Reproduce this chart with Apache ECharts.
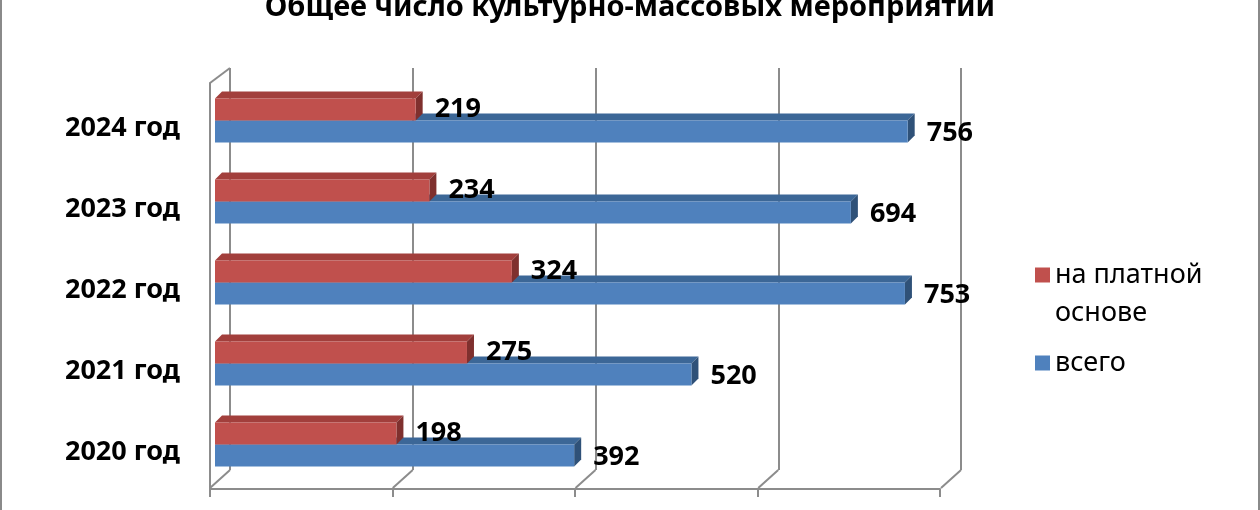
<!DOCTYPE html>
<html><head><meta charset="utf-8">
<script src="https://cdn.jsdelivr.net/npm/echarts@6/dist/echarts.min.js"></script>
<style>
html,body{margin:0;padding:0;background:#fff;}
#c{width:1260px;height:510px;box-sizing:border-box;border-left:2px solid #8a8a8a;border-right:2px solid #8a8a8a;}
</style></head>
<body><div id="c"></div>
<script>
const titleText = 'Общее число культурно-массовых мероприятий';
const categories = ['2020 год','2021 год','2022 год','2023 год','2024 год'];
const seriesPaid = [198, 275, 324, 234, 219];
const seriesTotal = [392, 520, 753, 694, 756];
const namePaid = 'на платной основе';
const nameTotal = 'всего';
const axisTicks = [0, 200, 400, 600, 800];

const BAR_H = 22, DEPTH = 7, SHIFT = -9;
const FONT = '"Noto Sans", "DejaVu Sans", sans-serif';

function makeRender(isTop, front, topC, sideC) {
  return function (params, api) {
    const v = api.value(0), cat = api.value(1);
    const p0 = api.coord([0, cat]);
    const x0 = p0[0];
    const xe = api.coord([v, cat])[0];
    const yc = p0[1] + SHIFT;
    const yTop = isTop ? yc - BAR_H + 1 : yc + 1;
    const h = BAR_H, d = DEPTH;
    return {
      type: 'group',
      children: [
        {type:'polygon', shape:{points:[[x0,yTop],[x0+d,yTop-d],[xe+d,yTop-d],[xe,yTop]]}, style:{fill:topC}},
        {type:'polygon', shape:{points:[[xe,yTop],[xe+d,yTop-d],[xe+d,yTop+h-d],[xe,yTop+h]]}, style:{fill:sideC}},
        {type:'rect', shape:{x:x0, y:yTop, width:xe-x0, height:h}, style:{fill:front}},
        {type:'text', z2: 10, style:{text:String(v), x:xe+d+12, y:yTop+h/2+(isTop?0:2), verticalAlign:'middle', align:'left',
          font:'bold 27px ' + FONT, fill:'#000'}}
      ]
    };
  };
}

const chart = echarts.init(document.getElementById('c'), null, {renderer:'canvas'});
chart.setOption({
  animation:false,
  title:{text:titleText, left:'center', top:-12, textStyle:{fontFamily:FONT, fontWeight:'bold', fontSize:29, color:'#000'}},
  legend:{
    orient:'vertical', left:1028, top:213, itemWidth:15, itemHeight:15, icon:'rect', itemGap:12,
    data:[namePaid, nameTotal],
    formatter: n => n === namePaid ? '\u00a0\nна платной\nоснове' : n,
    textStyle:{fontFamily:FONT, fontSize:27, lineHeight:38, color:'#000'}
  },
  grid:[
    {left:228, width:731, top:68, bottom:40},
    {left:208, width:730, top:83, bottom:21},
    {left:213, width:733, top:88, bottom:17}
  ],
  xAxis:[
    {gridIndex:0, type:'value', min:0, max:800, interval:200, axisLabel:{show:false}, axisTick:{show:false}, axisLine:{show:false},
      splitLine:{show:true, lineStyle:{color:'#8c8c8c', width:2}}},
    {gridIndex:1, type:'value', min:0, max:800, interval:200, axisLabel:{show:false},
      axisTick:{show:true, length:8, lineStyle:{color:'#8c8c8c', width:2}},
      axisLine:{show:true, lineStyle:{color:'#8c8c8c', width:2}}, splitLine:{show:false}},
    {gridIndex:2, type:'value', min:0, max:800, interval:200, show:false}
  ],
  yAxis:[
    {gridIndex:0, type:'value', min:0, max:1, show:false},
    {gridIndex:1, type:'value', min:0, max:1, axisLabel:{show:false}, axisTick:{show:false}, splitLine:{show:false},
      axisLine:{show:true, lineStyle:{color:'#8c8c8c', width:2}}},
    {gridIndex:2, type:'category', data:categories, axisLine:{show:false}, axisTick:{show:false},
      axisLabel:{margin:35, fontFamily:FONT, fontWeight:'bold', fontSize:27, color:'#000'}}
  ],
  series:[
    {type:'custom', name:'walls', xAxisIndex:0, yAxisIndex:0, silent:true, z:1,
      data: axisTicks.map(t => [t]),
      renderItem:function(params, api){
        const t = api.value(0);
        const pb = api.coord([t, 0]);
        const children = [{type:'line', shape:{x1:pb[0], y1:pb[1], x2:pb[0]-20, y2:pb[1]+18}, style:{stroke:'#8c8c8c', lineWidth:2}}];
        if (t === 0) {
          const pt = api.coord([0, 1]);
          children.push({type:'line', shape:{x1:pt[0], y1:pt[1], x2:pt[0]-20, y2:pt[1]+15}, style:{stroke:'#8c8c8c', lineWidth:2}});
        }
        return {type:'group', children};
      }},
    {type:'custom', name:nameTotal, xAxisIndex:2, yAxisIndex:2, itemStyle:{color:'#4F81BD'}, z:3,
      data: seriesTotal.map((v,i)=>[v,i]), encode:{x:0,y:1},
      renderItem: makeRender(false, '#4F81BD', '#3C6797', '#2F5178')},
    {type:'custom', name:namePaid, xAxisIndex:2, yAxisIndex:2, itemStyle:{color:'#C0504D'}, z:4,
      data: seriesPaid.map((v,i)=>[v,i]), encode:{x:0,y:1},
      renderItem: makeRender(true, '#C0504D', '#A23F3C', '#7F302E')}
  ]
});
</script></body></html>
